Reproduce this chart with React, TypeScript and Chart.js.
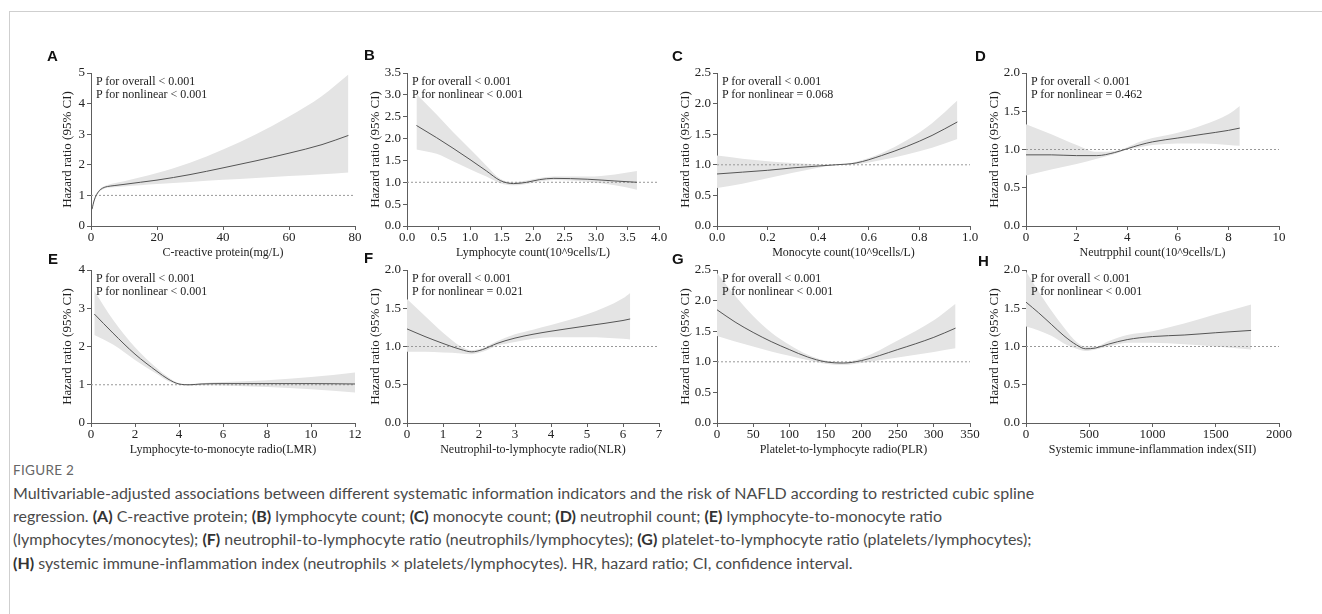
import React, { useEffect, useLayoutEffect, useRef, useState } from 'react';
import { Chart, registerables } from 'chart.js';
Chart.register(...registerables);

// ---------- data ----------
const crpX = [0.3, 1, 2, 3, 4, 5, 7, 10, 15, 20, 30, 40, 50, 60, 70, 78];
const crpHR = [0.55, 0.85, 1.08, 1.2, 1.26, 1.29, 1.32, 1.36, 1.43, 1.5, 1.68, 1.9, 2.13, 2.38, 2.66, 2.96];
const crpUpper = [0.6, 0.9, 1.12, 1.24, 1.3, 1.34, 1.4, 1.46, 1.59, 1.73, 2.07, 2.5, 3.0, 3.58, 4.25, 4.95];
const crpLower = [0.5, 0.8, 1.04, 1.16, 1.22, 1.25, 1.27, 1.29, 1.33, 1.37, 1.44, 1.51, 1.57, 1.63, 1.69, 1.75];

const lymX = [0.15, 0.47, 0.73, 1.0, 1.26, 1.48, 1.69, 1.9, 2.1, 2.33, 2.86, 3.3, 3.65];
const lymHR = [2.3, 2.02, 1.78, 1.52, 1.26, 1.04, 0.97, 1.0, 1.06, 1.09, 1.07, 1.03, 1.0];
const lymUpper = [3.02, 2.55, 2.15, 1.76, 1.38, 1.08, 1.0, 1.04, 1.1, 1.13, 1.13, 1.18, 1.26];
const lymLower = [1.75, 1.65, 1.48, 1.3, 1.13, 0.98, 0.93, 0.96, 1.02, 1.05, 1.01, 0.93, 0.83];

const monoX = [0, 0.1, 0.2, 0.3, 0.4, 0.47, 0.55, 0.65, 0.75, 0.85, 0.95];
const monoHR = [0.85, 0.88, 0.91, 0.95, 0.98, 1.0, 1.03, 1.15, 1.3, 1.48, 1.7];
const monoUpper = [1.15, 1.1, 1.06, 1.03, 1.01, 1.0, 1.05, 1.19, 1.4, 1.68, 2.05];
const monoLower = [0.62, 0.69, 0.78, 0.87, 0.95, 1.0, 1.01, 1.08, 1.17, 1.28, 1.42];

const neuX = [0, 1, 2, 2.8, 3.5, 4, 4.5, 5, 6, 7, 8, 8.45];
const neuHR = [0.93, 0.93, 0.92, 0.92, 0.96, 1.01, 1.06, 1.1, 1.15, 1.2, 1.25, 1.28];
const neuUpper = [1.33, 1.2, 1.06, 0.97, 0.98, 1.03, 1.1, 1.15, 1.22, 1.32, 1.46, 1.57];
const neuLower = [0.66, 0.74, 0.81, 0.88, 0.94, 1.0, 1.03, 1.06, 1.08, 1.08, 1.06, 1.05];

const lmrX = [0.15, 1, 2, 3, 3.5, 4, 4.5, 5, 6, 8, 10, 12];
const lmrHR = [2.85, 2.35, 1.8, 1.35, 1.15, 1.02, 1.0, 1.02, 1.03, 1.03, 1.03, 1.02];
const lmrUpper = [3.45, 2.7, 1.98, 1.43, 1.2, 1.04, 1.02, 1.04, 1.07, 1.12, 1.2, 1.32];
const lmrLower = [2.3, 2.05, 1.65, 1.28, 1.1, 1.0, 0.98, 0.99, 0.98, 0.94, 0.88, 0.8];

const nlrX = [0, 0.5, 1, 1.5, 1.8, 2.1, 2.5, 3, 3.5, 4, 5, 6, 6.2];
const nlrHR = [1.23, 1.13, 1.04, 0.96, 0.93, 0.96, 1.04, 1.11, 1.16, 1.2, 1.27, 1.34, 1.36];
const nlrUpper = [1.62, 1.4, 1.18, 1.0, 0.95, 0.98, 1.07, 1.16, 1.22, 1.28, 1.42, 1.63, 1.7];
const nlrLower = [0.93, 0.93, 0.92, 0.91, 0.9, 0.93, 1.01, 1.06, 1.1, 1.12, 1.12, 1.1, 1.09];

const plrX = [0, 25, 50, 75, 100, 125, 150, 175, 200, 250, 300, 330];
const plrHR = [1.85, 1.65, 1.48, 1.33, 1.2, 1.08, 1.0, 0.98, 1.02, 1.2, 1.4, 1.55];
const plrUpper = [2.45, 2.08, 1.75, 1.48, 1.28, 1.12, 1.02, 1.0, 1.06, 1.35, 1.68, 1.95];
const plrLower = [1.42, 1.33, 1.25, 1.17, 1.1, 1.03, 0.97, 0.95, 0.98, 1.07, 1.16, 1.22];

const siiX = [0, 100, 200, 300, 400, 470, 550, 650, 800, 1000, 1250, 1500, 1780];
const siiHR = [1.58, 1.44, 1.29, 1.14, 1.02, 0.97, 0.98, 1.03, 1.09, 1.13, 1.15, 1.18, 1.21];
const siiUpper = [1.98, 1.72, 1.47, 1.25, 1.06, 1.0, 1.0, 1.07, 1.15, 1.2, 1.3, 1.42, 1.55];
const siiLower = [1.26, 1.21, 1.14, 1.04, 0.97, 0.94, 0.96, 1.0, 1.05, 1.05, 1.03, 1.0, 0.96];

// tick values
const crpXTicks = [0, 20, 40, 60, 80];
const crpYTicks = [0, 1, 2, 3, 4, 5];
const lymXTicks = [0, 0.5, 1, 1.5, 2, 2.5, 3, 3.5, 4];
const lymYTicks = [0, 0.5, 1, 1.5, 2, 2.5, 3, 3.5];
const monoXTicks = [0, 0.2, 0.4, 0.6, 0.8, 1];
const monoYTicks = [0, 0.5, 1, 1.5, 2, 2.5];
const neuXTicks = [0, 2, 4, 6, 8, 10];
const neuYTicks = [0, 0.5, 1, 1.5, 2];
const lmrXTicks = [0, 2, 4, 6, 8, 10, 12];
const lmrYTicks = [0, 1, 2, 3, 4];
const nlrXTicks = [0, 1, 2, 3, 4, 5, 6, 7];
const nlrYTicks = [0, 0.5, 1, 1.5, 2];
const plrXTicks = [0, 50, 100, 150, 200, 250, 300, 350];
const plrYTicks = [0, 0.5, 1, 1.5, 2, 2.5];
const siiXTicks = [0, 500, 1000, 1500, 2000];
const siiYTicks = [0, 0.5, 1, 1.5, 2];

const panelLetters = ['A', 'B', 'C', 'D', 'E', 'F', 'G', 'H'];
const xTitles = [
  'C-reactive protein(mg/L)',
  'Lymphocyte count(10^9cells/L)',
  'Monocyte count(10^9cells/L)',
  'Neutrpphil count(10^9cells/L)',
  'Lymphocyte-to-monocyte radio(LMR)',
  'Neutrophil-to-lymphocyte radio(NLR)',
  'Platelet-to-lymphocyte radio(PLR)',
  'Systemic immune-inflammation index(SII)',
];
const pOverall = ['< 0.001', '< 0.001', '< 0.001', '< 0.001', '< 0.001', '< 0.001', '< 0.001', '< 0.001'];
const pNonlinear = ['< 0.001', '< 0.001', '= 0.068', '= 0.462', '< 0.001', '= 0.021', '< 0.001', '< 0.001'];
const yTitle = 'Hazard ratio (95% CI)';

const captionHead = 'FIGURE 2';
const captionLine1 =
  'Multivariable-adjusted associations between different systematic information indicators and the risk of NAFLD according to restricted cubic spline';

// ---------- styling / layout ----------
const SERIF = '"Liberation Serif", "Times New Roman", serif';
const AXIS = '#5e5e5e';
const TEXT = '#222';
const BAND = '#e4e4e4';
const LINE = '#555';
const REF = '#999';

const panels = [
  { x: crpX, hr: crpHR, up: crpUpper, lo: crpLower, xt: crpXTicks, yt: crpYTicks, dec: 0, xd: 0, L: 91, R: 355, T: 73, B: 226 },
  { x: lymX, hr: lymHR, up: lymUpper, lo: lymLower, xt: lymXTicks, yt: lymYTicks, dec: 1, xd: 1, L: 407, R: 659, T: 73, B: 226 },
  { x: monoX, hr: monoHR, up: monoUpper, lo: monoLower, xt: monoXTicks, yt: monoYTicks, dec: 1, xd: 1, L: 717, R: 970, T: 73, B: 226 },
  { x: neuX, hr: neuHR, up: neuUpper, lo: neuLower, xt: neuXTicks, yt: neuYTicks, dec: 1, xd: 0, L: 1026, R: 1279, T: 73, B: 226 },
  { x: lmrX, hr: lmrHR, up: lmrUpper, lo: lmrLower, xt: lmrXTicks, yt: lmrYTicks, dec: 0, xd: 0, L: 91, R: 355, T: 270, B: 423 },
  { x: nlrX, hr: nlrHR, up: nlrUpper, lo: nlrLower, xt: nlrXTicks, yt: nlrYTicks, dec: 1, xd: 0, L: 407, R: 659, T: 270, B: 423 },
  { x: plrX, hr: plrHR, up: plrUpper, lo: plrLower, xt: plrXTicks, yt: plrYTicks, dec: 1, xd: 0, L: 717, R: 970, T: 270, B: 423 },
  { x: siiX, hr: siiHR, up: siiUpper, lo: siiLower, xt: siiXTicks, yt: siiYTicks, dec: 1, xd: 0, L: 1026, R: 1279, T: 270, B: 423 },
];
const letterPos = [
  [47, 48], [364, 47], [672, 48], [975, 48],
  [48, 251], [364, 250], [672, 251], [978, 253],
];

const PAD_T = 10;
const PAD_R = 14;
const XH = 34;

function Panel({ idx }: { idx: number }) {
  const p = panels[idx];
  const ref = useRef<HTMLCanvasElement>(null);
  const YW = p.dec ? 39 : 31;
  const w = YW + (p.R - p.L) + PAD_R;
  const h = PAD_T + (p.B - p.T) + XH;
  useEffect(() => {
    const pts = (xs: number[], ys: number[]) => xs.map((x, i) => ({ x, y: ys[i] }));
    const xmin = p.xt[0];
    const xmax = p.xt[p.xt.length - 1];
    const tickFont = { family: SERIF, size: 13 };
    const chart = new Chart(ref.current as HTMLCanvasElement, {
      type: 'line',
      data: {
        datasets: [
          { data: pts(p.x, p.hr), borderColor: LINE, borderWidth: 1, pointRadius: 0, fill: false, cubicInterpolationMode: 'monotone' },
          { data: [{ x: xmin, y: 1 }, { x: xmax, y: 1 }], borderColor: REF, borderWidth: 1, borderDash: [2, 2], pointRadius: 0, fill: false },
          { data: pts(p.x, p.up), borderColor: 'rgba(0,0,0,0)', borderWidth: 0, pointRadius: 0, fill: '+1', backgroundColor: BAND, cubicInterpolationMode: 'monotone' },
          { data: pts(p.x, p.lo), borderColor: 'rgba(0,0,0,0)', borderWidth: 0, pointRadius: 0, fill: false, cubicInterpolationMode: 'monotone' },
        ],
      } as any,
      options: {
        animation: false,
        responsive: false,
        maintainAspectRatio: false,
        events: [],
        layout: { padding: { top: PAD_T, right: PAD_R, left: 0, bottom: 0 } },
        plugins: { legend: { display: false }, tooltip: { enabled: false } },
        scales: {
          x: {
            type: 'linear',
            min: xmin,
            max: xmax,
            afterBuildTicks: (s: any) => { s.ticks = p.xt.map((v) => ({ value: v })); },
            afterFit: (s: any) => { s.height = XH; },
            ticks: { font: tickFont, color: TEXT, padding: 0, autoSkip: false, maxRotation: 0, callback: (v: any) => Number(v).toFixed(p.xd) },
            grid: { display: true, drawOnChartArea: false, drawTicks: true, tickLength: 4, color: AXIS },
            border: { display: true, color: AXIS, width: 1 },
            title: { display: true, text: xTitles[idx], font: { family: SERIF, size: 12 }, color: TEXT, padding: 0 },
          },
          y: {
            type: 'linear',
            min: p.yt[0],
            max: p.yt[p.yt.length - 1],
            afterBuildTicks: (s: any) => { s.ticks = p.yt.map((v) => ({ value: v })); },
            afterFit: (s: any) => { s.width = YW; },
            ticks: { font: tickFont, color: TEXT, padding: 2, autoSkip: false, callback: (v: any) => Number(v).toFixed(p.dec) },
            grid: { display: true, drawOnChartArea: false, drawTicks: true, tickLength: 4, color: AXIS },
            border: { display: true, color: AXIS, width: 1 },
            title: { display: true, text: yTitle, font: { family: SERIF, size: 13 }, color: TEXT, padding: 0 },
          },
        },
      } as any,
    });
    return () => chart.destroy();
  }, []);
  return (
    <>
      <canvas
        ref={ref}
        width={w}
        height={h}
        style={{ position: 'absolute', left: p.L - YW, top: p.T - PAD_T, width: w, height: h }}
      />
      <div
        style={{
          position: 'absolute', left: p.L + 5, top: p.T + 1.5, font: `12px ${SERIF}`,
          lineHeight: '13px', color: TEXT, whiteSpace: 'nowrap',
        }}
      >
        <div>P for overall {pOverall[idx]}</div>
        <div>P for nonlinear {pNonlinear[idx]}</div>
      </div>
      <div
        style={{
          position: 'absolute', left: letterPos[idx][0], top: letterPos[idx][1],
          font: 'bold 15px "Liberation Sans", Arial, sans-serif', lineHeight: '15px', color: '#111',
        }}
      >
        {panelLetters[idx]}
      </div>
    </>
  );
}

const CAP_FONT = 'Lato, "Open Sans", sans-serif';

export default function App() {
  const [capSize, setCapSize] = useState(14);
  useLayoutEffect(() => {
    const c = document.createElement('canvas').getContext('2d');
    if (c) {
      c.font = `100px ${CAP_FONT}`;
      const wd = c.measureText(captionLine1).width;
      if (wd > 0) setCapSize((100 * 1022) / wd);
    }
  }, []);
  const b = (t: string) => <b style={{ fontWeight: 700, color: '#333' }}>{t}</b>;
  return (
    <div style={{ position: 'absolute', left: 0, top: 0, width: 1322, height: 614, background: '#fff', overflow: 'hidden' }}>
      <div style={{ position: 'absolute', left: 9, top: 11, width: 1320, height: 610, borderTop: '1px solid #cfcfcf', borderLeft: '1px solid #cfcfcf' }} />
      {panels.map((_, i) => <Panel key={i} idx={i} />)}
      <div style={{ position: 'absolute', left: 13, top: 462, font: `13.5px ${CAP_FONT}`, color: '#666', letterSpacing: '0.3px' }}>
        {captionHead}
      </div>
      <div
        style={{
          position: 'absolute', left: 13, top: 481, fontFamily: CAP_FONT, fontSize: capSize,
          lineHeight: '23.2px', color: '#4a4a4a', whiteSpace: 'nowrap',
        }}
      >
        <div>{captionLine1}</div>
        <div>regression. {b('(A)')} C-reactive protein; {b('(B)')} lymphocyte count; {b('(C)')} monocyte count; {b('(D)')} neutrophil count; {b('(E)')} lymphocyte-to-monocyte ratio</div>
        <div>(lymphocytes/monocytes); {b('(F)')} neutrophil-to-lymphocyte ratio (neutrophils/lymphocytes); {b('(G)')} platelet-to-lymphocyte ratio (platelets/lymphocytes);</div>
        <div>{b('(H)')} systemic immune-inflammation index (neutrophils × platelets/lymphocytes). HR, hazard ratio; CI, confidence interval.</div>
      </div>
    </div>
  );
}
